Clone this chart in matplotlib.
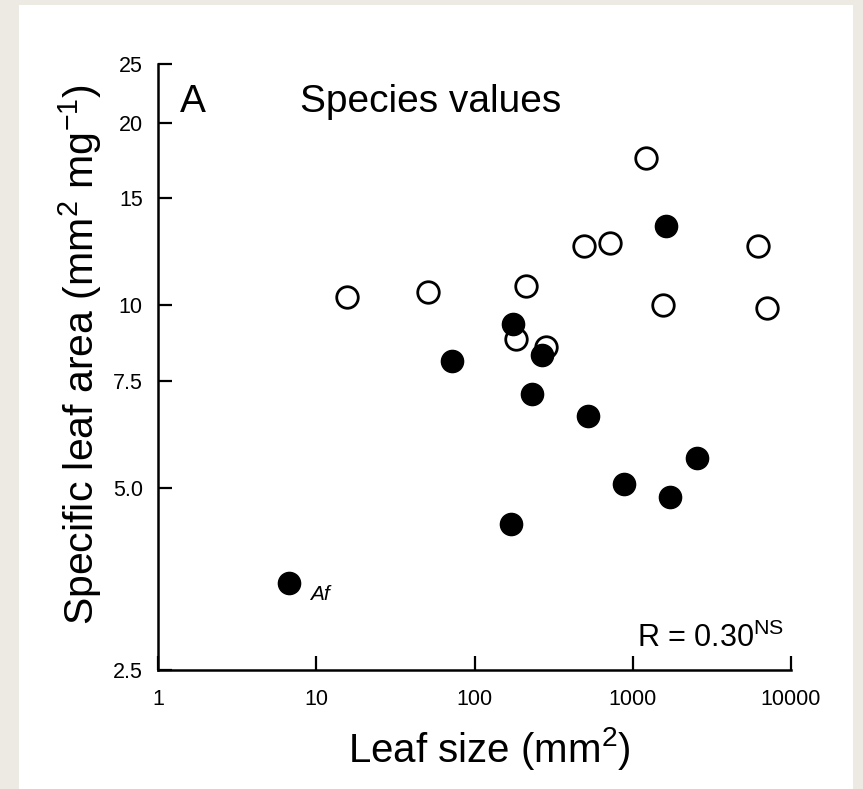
import matplotlib
matplotlib.use('Agg')
import matplotlib.pyplot as plt
from matplotlib.patches import Rectangle

plt.rcParams['font.family'] = ['Liberation Sans', 'DejaVu Sans']
plt.rcParams['mathtext.fontset'] = 'custom'
plt.rcParams['mathtext.rm'] = 'Liberation Sans'
plt.rcParams['mathtext.it'] = 'Liberation Sans:italic'

# open circles
open_leaf_size = [15.6, 50.8, 211, 183, 283, 492, 718, 1207, 1546, 6161, 7080]
open_sla = [10.3, 10.5, 10.75, 8.8, 8.53, 12.5, 12.65, 17.5, 10.0, 12.5, 9.9]

# filled circles
filled_leaf_size = [6.72, 71.8, 174, 268, 232, 519, 1615, 880, 1719, 2535, 169]
filled_sla = [3.48, 8.09, 9.3, 8.28, 7.13, 6.56, 13.5, 5.06, 4.82, 5.59, 4.35]

x_ticks = [1, 10, 100, 1000, 10000]
x_tick_labels = ['1', '10', '100', '1000', '10000']
y_ticks = [2.5, 5, 7.5, 10, 15, 20, 25]
y_tick_labels = ['2.5', '5.0', '7.5', '10', '15', '20', '25']

fig = plt.figure(figsize=(8.63, 7.89), dpi=100, facecolor='#edeae3')
fig.patches.append(Rectangle((19 / 863, 0), 834 / 863, 1 - 5 / 789,
                             transform=fig.transFigure, facecolor='white',
                             edgecolor='none', zorder=-5))

ax = fig.add_axes([158 / 863, 1 - 670 / 789, 633 / 863, 606 / 789])
ax.set_facecolor('none')
ax.set_xscale('log')
ax.set_yscale('log')
ax.set_xlim(1, 10000)
ax.set_ylim(2.5, 25)

ax.plot(open_leaf_size, open_sla, 'o', ms=15.5, mfc='white', mec='black',
        mew=2.0, ls='none', zorder=3, clip_on=False)
ax.plot(filled_leaf_size, filled_sla, 'o', ms=16, mfc='black', mec='black',
        mew=1.0, ls='none', zorder=4, clip_on=False)

ax.annotate('Af', (filled_leaf_size[0], filled_sla[0]), xytext=(15, -12),
            textcoords='offset points', fontsize=15, style='italic',
            ha='left', va='baseline')

for s in ['top', 'right']:
    ax.spines[s].set_visible(False)
for s in ['left', 'bottom']:
    ax.spines[s].set_linewidth(1.8)

ax.set_xticks(x_ticks)
ax.set_xticklabels(x_tick_labels)
ax.set_yticks(y_ticks)
ax.set_yticklabels(y_tick_labels)
ax.minorticks_off()
ax.tick_params(direction='in', length=10, width=1.6, labelsize=15.5)
ax.tick_params(axis='x', pad=14)
ax.tick_params(axis='y', pad=11)

ax.set_xlabel('Leaf size (mm$^{2}$)', fontsize=29)
ax.set_ylabel('Specific leaf area (mm$^{2}$ mg$^{-1}$)', fontsize=29.5)
ax.xaxis.set_label_coords(0.524, -0.09)
ax.yaxis.set_label_coords(-0.085, 0.52)

ax.text(0.035, 0.921, 'A', transform=ax.transAxes, fontsize=28, va='baseline')
ax.text(0.225, 0.921, 'Species values', transform=ax.transAxes, fontsize=28,
        va='baseline')
ax.text(0.756, 0.038, 'R = 0.30$^{\\mathrm{NS}}$', transform=ax.transAxes,
        fontsize=22, va='baseline')

fig.savefig('out.png', dpi=100, facecolor=fig.get_facecolor())
